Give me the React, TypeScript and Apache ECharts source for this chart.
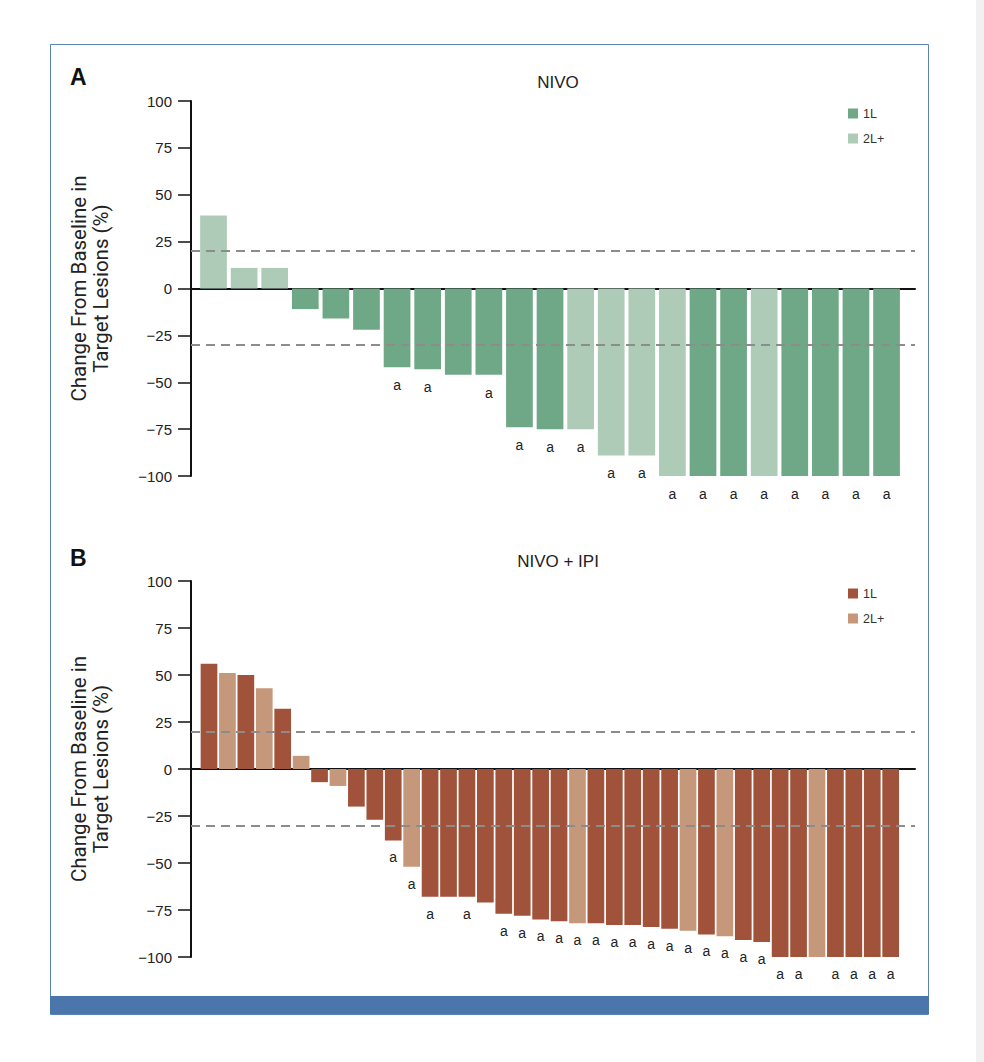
import React, { useEffect, useRef } from "react";
import * as echarts from "echarts";

// Panel A: NIVO
const aValues = [39, 11, 11, -11, -16, -22, -42, -43, -46, -46, -74, -75, -75, -89, -89, -100, -100, -100, -100, -100, -100, -100, -100];
const aLines = ["2L+", "2L+", "2L+", "1L", "1L", "1L", "1L", "1L", "1L", "1L", "1L", "1L", "2L+", "2L+", "2L+", "2L+", "1L", "1L", "2L+", "1L", "1L", "1L", "1L"];
const aFlags = [0, 0, 0, 0, 0, 0, 1, 1, 0, 1, 1, 1, 1, 1, 1, 1, 1, 1, 1, 1, 1, 1, 1];

// Panel B: NIVO + IPI
const bValues = [56, 51, 50, 43, 32, 7, -7, -9, -20, -27, -38, -52, -68, -68, -68, -71, -77, -78, -80, -81, -82, -82, -83, -83, -84, -85, -86, -88, -89, -91, -92, -100, -100, -100, -100, -100, -100, -100];
const bLines = ["1L", "2L+", "1L", "2L+", "1L", "2L+", "1L", "2L+", "1L", "1L", "1L", "2L+", "1L", "1L", "1L", "1L", "1L", "1L", "1L", "1L", "2L+", "1L", "1L", "1L", "1L", "1L", "2L+", "1L", "2L+", "1L", "1L", "1L", "1L", "2L+", "1L", "1L", "1L", "1L"];
const bFlags = [0, 0, 0, 0, 0, 0, 0, 0, 0, 0, 1, 1, 1, 0, 1, 0, 1, 1, 1, 1, 1, 1, 1, 1, 1, 1, 1, 1, 1, 1, 1, 1, 1, 0, 1, 1, 1, 1];

const yTicks = [-100, -75, -50, -25, 0, 25, 50, 75, 100];
const thresholds = [20, -30];
const lineTypes = ["1L", "2L+"];

const COLORS = {
  A: { "1L": "#6fa887", "2L+": "#aecbb8" },
  B: { "1L": "#a0533a", "2L+": "#c5977b" },
};

const FONT = "'Liberation Sans', Arial, Helvetica, sans-serif";

export default function App() {
  const ref = useRef<HTMLDivElement>(null);

  useEffect(() => {
    if (!ref.current) return;
    const chart = echarts.init(ref.current, null, { renderer: "svg" });

    const gridTop = [101, 581];
    const gridH = [375, 376];
    const xRange = [
      { min: -0.736, max: 22.93 },
      { min: -0.977, max: 38.32 },
    ];
    const barW = [26.7, 16.7];
    const labelDist = [11, 10];

    const panels = [
      { key: "A", values: aValues, lines: aLines, flags: aFlags, title: "NIVO" },
      { key: "B", values: bValues, lines: bLines, flags: bFlags, title: "NIVO + IPI" },
    ];

    const series: any[] = [];
    panels.forEach((p, pi) => {
      lineTypes.forEach((lt, li) => {
        const data = p.values
          .map((v, i) => ({ i, v }))
          .filter((d) => p.lines[d.i] === lt)
          .map((d) => ({
            value: [d.i, d.v],
            label: { show: p.flags[d.i] === 1 },
          }));
        series.push({
          type: "bar",
          name: p.key + lt,
          xAxisIndex: pi,
          yAxisIndex: pi,
          barWidth: barW[pi],
          barGap: "-100%",
          data,
          itemStyle: { color: (COLORS as any)[p.key][lt] },
          label: {
            show: false,
            position: "outside",
            distance: labelDist[pi],
            formatter: "a",
            fontSize: 14,
            color: "#222",
            fontFamily: FONT,
          },
          markLine:
            li === 0
              ? {
                  silent: true,
                  symbol: "none",
                  label: { show: false },
                  lineStyle: { color: "#8c8c8c", width: 1.8, type: [9, 6] },
                  data: thresholds.map((t) => ({ yAxis: t })),
                  z: 5,
                }
              : undefined,
        });
      });
    });

    const option: any = {
      animation: false,
      backgroundColor: "#ffffff",
      title: [
        { text: "A", left: 65, top: 60, textStyle: { fontSize: 23, fontWeight: "bold", fontFamily: FONT, color: "#111" } },
        { text: "NIVO", left: 553, top: 69, textAlign: "center", textStyle: { fontSize: 17, fontWeight: "normal", fontFamily: FONT, color: "#222" } },
        { text: "B", left: 65, top: 541, textStyle: { fontSize: 23, fontWeight: "bold", fontFamily: FONT, color: "#111" } },
        { text: "NIVO + IPI", left: 553, top: 548, textAlign: "center", textStyle: { fontSize: 17, fontWeight: "normal", fontFamily: FONT, color: "#222" } },
      ],
      legend: panels.map((p, pi) => ({
        orient: "vertical",
        left: 843,
        top: gridTop[pi] + 1,
        itemWidth: 10,
        itemHeight: 10,
        itemGap: 12,
        icon: "rect",
        data: lineTypes.map((lt) => p.key + lt),
        formatter: (name: string) => name.slice(1),
        textStyle: { fontSize: 12.5, fontFamily: FONT, color: "#333" },
        selectedMode: false,
      })),
      grid: panels.map((_, pi) => ({
        left: 191,
        top: gridTop[pi],
        width: 724,
        height: gridH[pi],
        containLabel: false,
      })),
      xAxis: panels.map((_, pi) => ({
        type: "value",
        gridIndex: pi,
        min: xRange[pi].min,
        max: xRange[pi].max,
        axisLine: { show: true, onZero: true, lineStyle: { color: "#111", width: 2 } },
        axisTick: { show: false },
        axisLabel: { show: false },
        splitLine: { show: false },
      })),
      yAxis: panels.map((_, pi) => ({
        type: "value",
        gridIndex: pi,
        min: yTicks[0],
        max: yTicks[yTicks.length - 1],
        interval: 25,
        name: "Change From Baseline in\nTarget Lesions (%)",
        nameLocation: "middle",
        nameRotate: 90,
        nameGap: 79,
        nameTextStyle: { fontSize: 20.5, fontFamily: "Roboto, 'Liberation Sans', sans-serif", color: "#222", lineHeight: 22 },
        axisLine: { show: true, onZero: false, lineStyle: { color: "#111", width: 2 } },
        axisTick: { show: true, length: 13, lineStyle: { color: "#111", width: 1.5 } },
        axisLabel: {
          margin: 19,
          fontSize: 15,
          fontFamily: FONT,
          color: "#222",
          formatter: (v: number) => (v < 0 ? "\u2212" + Math.abs(v) : String(v)),
        },
        splitLine: { show: false },
      })),
      graphic: [
        { type: "rect", shape: { x: 976, y: 0, width: 8, height: 1062 }, style: { fill: "#f1f1f1" }, silent: true },
        { type: "rect", shape: { x: 50.5, y: 44.5, width: 878, height: 970 }, style: { fill: "none", stroke: "#5a84b4", lineWidth: 1 }, silent: true },
        { type: "rect", shape: { x: 50, y: 996, width: 879, height: 18 }, style: { fill: "#4a76ab" }, silent: true },
      ],
      series,
    };

    chart.setOption(option);
    return () => chart.dispose();
  }, []);

  return (
    <div
      ref={ref}
      style={{ position: "absolute", left: 0, top: 0, width: 984, height: 1062 }}
    />
  );
}
